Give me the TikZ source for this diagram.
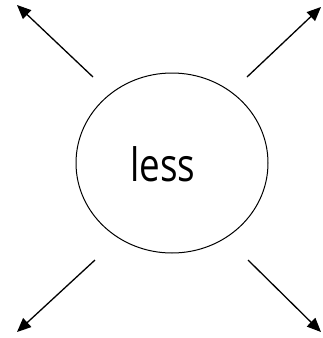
\documentclass[tikz,border=0pt]{standalone}
\usepackage{fontspec}
\setmainfont{Open Sans}
\usetikzlibrary{arrows.meta,shapes.geometric}

\tikzset{
  hub/.style={draw,ellipse,line width=1pt,minimum width=192pt,minimum height=180pt,inner sep=0pt},
  spoke/.style={line width=1.3pt,-{Triangle[length=14pt,width=12pt]}}
}

\begin{document}
\begin{tikzpicture}[x=1pt,y=-1pt]
\useasboundingbox (0,0) rectangle (322,338);

\node[hub] (less) at (172,163) {};
\node[font=\fontsize{46}{50}\selectfont] (word) at (163,164) {\scalebox{0.8}[1]{less}};

% tails near the circle, heads out at the corners
\coordinate (tlA) at (93,77);   \coordinate (tlB) at (17,5);
\coordinate (trA) at (247,77);  \coordinate (trB) at (321,7);
\coordinate (blA) at (95,260);  \coordinate (blB) at (17,332);
\coordinate (brA) at (248,260); \coordinate (brB) at (321,332);

\draw[spoke] (tlA) -- (tlB);
\draw[spoke] (trA) -- (trB);
\draw[spoke] (blA) -- (blB);
\draw[spoke] (brA) -- (brB);
\end{tikzpicture}
\end{document}
